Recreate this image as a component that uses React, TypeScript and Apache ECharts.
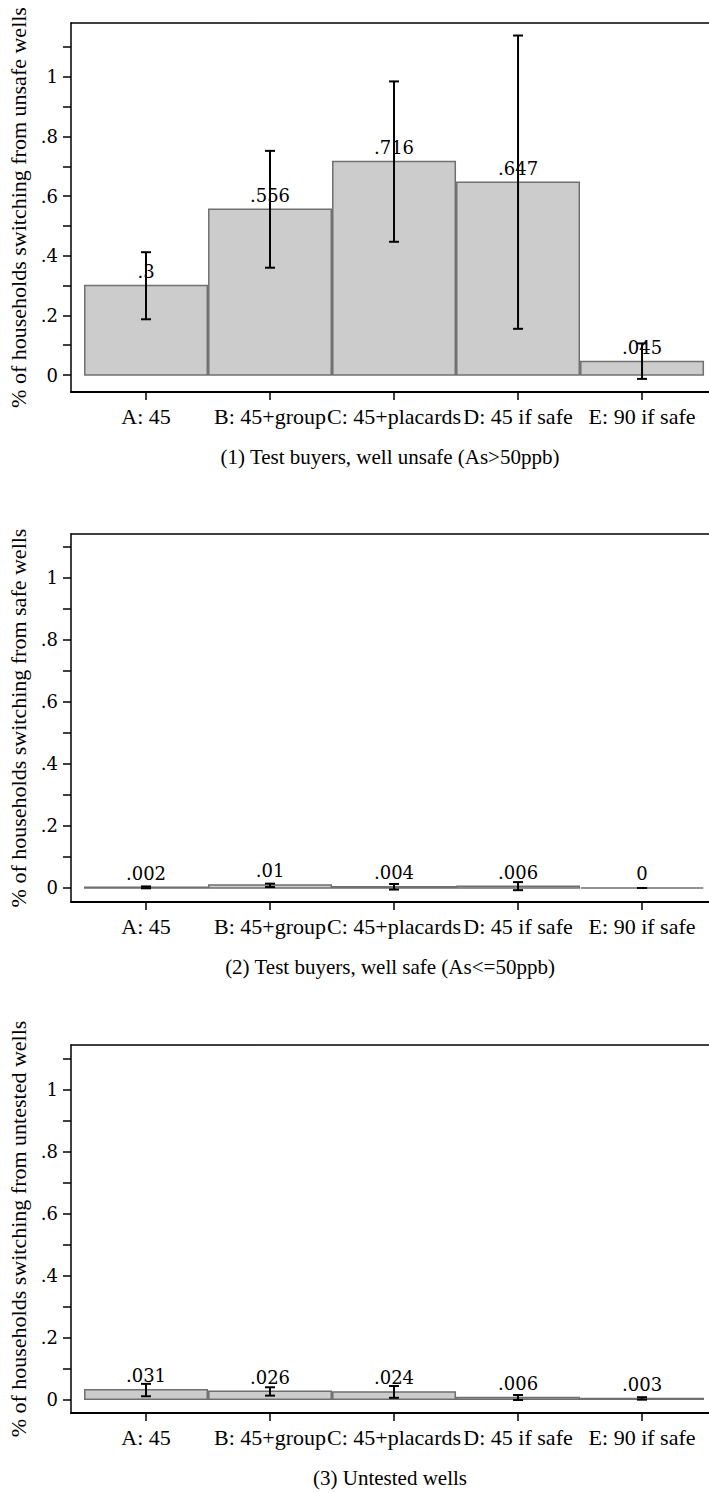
import React, { useEffect, useRef } from "react";
import * as echarts from "echarts";

const categories = ["A: 45", "B: 45+group", "C: 45+placards", "D: 45 if safe", "E: 90 if safe"];

const unsafeMeans = [0.3, 0.556, 0.716, 0.647, 0.045];
const unsafeLow = [0.187, 0.36, 0.447, 0.155, -0.013];
const unsafeHigh = [0.412, 0.752, 0.985, 1.139, 0.106];

const safeMeans = [0.002, 0.01, 0.004, 0.006, 0];
const safeLow = [-0.001, 0.003, -0.005, -0.007, 0];
const safeHigh = [0.005, 0.014, 0.013, 0.019, 0];

const untestedMeans = [0.031, 0.026, 0.024, 0.006, 0.003];
const untestedLow = [0.01, 0.012, 0.005, -0.002, -0.001];
const untestedHigh = [0.05, 0.039, 0.043, 0.014, 0.007];

const yTitles = [
  "% of households switching from unsafe wells",
  "% of households switching from safe wells",
  "% of households switching from untested wells",
];
const xTitles = [
  "(1) Test buyers, well unsafe (As>50ppb)",
  "(2) Test buyers, well safe (As<=50ppb)",
  "(3) Untested wells",
];

const yTickValues = [0, 0.1, 0.2, 0.3, 0.4, 0.5, 0.6, 0.7, 0.8, 0.9, 1, 1.1];
const yLabelValues = [0, 0.2, 0.4, 0.6, 0.8, 1];
const xTickValues = [0, 1, 2, 3, 4];

// layout
const gridTops = [23, 534, 1045];
const gridHeights = [369, 368, 368];
const yMins = [-0.057, -0.0452, -0.044];
const yMaxs = [1.181, 1.1419, 1.143];
const xMin = -0.605;
const xMax = 4.54;

const FONT = "Liberation Serif";
const NUM_FONT = "DejaVu Serif";

function fmtNum(v: number): string {
  if (v === 0) return "0";
  const s = String(+v.toFixed(3));
  return s.replace(/^0\./, ".").replace(/^-0\./, "-.");
}

export default function App() {
  const ref = useRef<HTMLDivElement>(null);
  useEffect(() => {
    if (!ref.current) return;
    const chart = echarts.init(ref.current, null, { renderer: "svg" });
    const means = [unsafeMeans, safeMeans, untestedMeans];
    const lows = [unsafeLow, safeLow, untestedLow];
    const highs = [unsafeHigh, safeHigh, untestedHigh];

    const grids: any[] = [];
    const xAxes: any[] = [];
    const yAxes: any[] = [];
    const series: any[] = [];

    for (let p = 0; p < 3; p++) {
      grids.push({
        left: 71,
        right: 0,
        top: gridTops[p],
        height: gridHeights[p],
        containLabel: false,
        outerBoundsMode: "none",
      });
      xAxes.push({
        type: "value",
        gridIndex: p,
        min: xMin,
        max: xMax,
        position: "bottom",
        name: xTitles[p],
        nameLocation: "middle",
        nameGap: 54,
        nameTextStyle: { fontFamily: FONT, fontSize: 21, color: "#000" },
        axisLine: { show: true, onZero: false, lineStyle: { color: "#000", width: 2 } },
        axisTick: { show: true, length: 8, customValues: xTickValues, lineStyle: { color: "#000", width: 1.5 } },
        axisLabel: {
          show: true,
          customValues: xTickValues,
          margin: 13,
          fontFamily: FONT,
          fontSize: 22,
          color: "#000",
          hideOverlap: false,
          formatter: (v: number) => categories[Math.round(v)] ?? "",
        },
        splitLine: { show: false },
      });
      xAxes.push({
        type: "value",
        gridIndex: p,
        min: xMin,
        max: xMax,
        position: "top",
        axisLine: { show: true, onZero: false, lineStyle: { color: "#000", width: 1.5 } },
        axisTick: { show: false },
        axisLabel: { show: false },
        splitLine: { show: false },
      });
      yAxes.push({
        type: "value",
        gridIndex: p,
        min: yMins[p],
        max: yMaxs[p],
        name: yTitles[p],
        nameLocation: "middle",
        nameGap: 37,
        nameTextStyle: { fontFamily: FONT, fontSize: 22, color: "#000" },
        axisLine: { show: true, onZero: false, lineStyle: { color: "#000", width: 1.5 } },
        axisTick: { show: true, length: 8, customValues: yTickValues, lineStyle: { color: "#000", width: 1.5 } },
        axisLabel: {
          show: true,
          customValues: yLabelValues,
          margin: 13,
          fontFamily: NUM_FONT,
          fontSize: 18,
          color: "#000",
          formatter: (v: number) => fmtNum(v),
        },
        splitLine: { show: false },
      });

      const barData = means[p].map((m, i) => [i, m]);
      const errData = means[p].map((_, i) => [i, lows[p][i], highs[p][i]]);

      series.push({
        type: "custom",
        xAxisIndex: p * 2,
        yAxisIndex: p,
        data: barData,
        encode: { x: 0, y: 1 },
        z: 2,
        renderItem: (params: any, api: any) => {
          const i = api.value(0);
          const v = api.value(1);
          const p0 = api.coord([i - 0.5, 0]);
          const p1 = api.coord([i + 0.5, v]);
          const yTop = Math.min(p0[1], p1[1]);
          const h = Math.abs(p0[1] - p1[1]);
          return {
            type: "group",
            children: [
              {
                type: "rect",
                shape: { x: p0[0] + 0.75, y: yTop, width: p1[0] - p0[0] - 1.5, height: h },
                style: { fill: "#cccccc", stroke: "#707070", lineWidth: 1.5 },
              },
              {
                type: "text",
                x: (p0[0] + p1[0]) / 2,
                y: p1[1] - 5,
                style: {
                  text: fmtNum(v),
                  fill: "#000",
                  font: `18px "${NUM_FONT}"`,
                  align: "center",
                  verticalAlign: "bottom",
                },
              },
            ],
          };
        },
      });
      series.push({
        type: "custom",
        xAxisIndex: p * 2,
        yAxisIndex: p,
        data: errData,
        encode: { x: 0, y: [1, 2] },
        z: 3,
        renderItem: (params: any, api: any) => {
          const i = api.value(0);
          const a = api.coord([i, api.value(1)]);
          const b = api.coord([i, api.value(2)]);
          const st = { stroke: "#000", lineWidth: 2 };
          return {
            type: "group",
            children: [
              { type: "line", shape: { x1: a[0], y1: a[1], x2: b[0], y2: b[1] }, style: st },
              { type: "line", shape: { x1: a[0] - 5, y1: a[1], x2: a[0] + 5, y2: a[1] }, style: st },
              { type: "line", shape: { x1: b[0] - 5, y1: b[1], x2: b[0] + 5, y2: b[1] }, style: st },
            ],
          };
        },
      });
    }

    chart.setOption({
      animation: false,
      backgroundColor: "#fff",
      grid: grids,
      xAxis: xAxes,
      yAxis: yAxes,
      series,
    });
    return () => chart.dispose();
  }, []);
  return <div ref={ref} style={{ position: "absolute", left: 0, top: 0, width: 709, height: 1493 }} />;
}
